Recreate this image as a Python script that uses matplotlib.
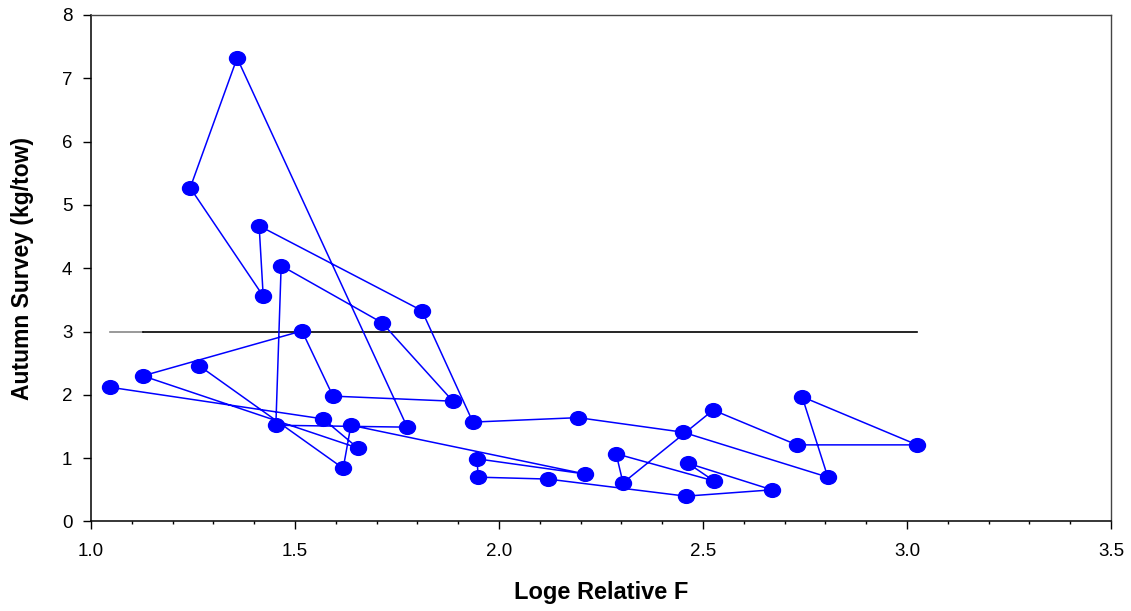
"""
Autumn survey index against loge relative F, points joined in series order.
"""

import matplotlib
matplotlib.use('Agg')
import matplotlib.pyplot as plt
from matplotlib.path import Path
from matplotlib.transforms import Affine2D
from matplotlib.ticker import MultipleLocator

plt.rcParams['font.family'] = ['Liberation Sans', 'DejaVu Sans']

# values in series order
loge_rel_f = [1.047, 1.569, 1.654, 1.127, 1.517, 1.593, 1.887, 1.713, 1.466,
              1.453, 1.775, 1.358, 1.243, 1.422, 1.412, 1.811, 1.936, 2.194,
              2.451, 2.806, 2.743, 3.025, 2.730, 2.525, 2.304, 2.287, 2.527,
              2.463, 2.669, 2.458, 2.120, 1.949, 1.946, 2.211, 1.637, 1.618,
              1.265]
autumn_kg_tow = [2.12, 1.62, 1.16, 2.30, 3.01, 1.98, 1.90, 3.14, 4.04,
                 1.52, 1.49, 7.32, 5.27, 3.56, 4.67, 3.33, 1.57, 1.64,
                 1.41, 0.70, 1.97, 1.21, 1.21, 1.76, 0.61, 1.07, 0.64,
                 0.92, 0.50, 0.40, 0.67, 0.70, 0.99, 0.75, 1.52, 0.84,
                 2.46]
ref_level = 3.0

# slightly flattened dot, like the original symbols
oval = Affine2D().scale(1.0, 0.86).transform_path(Path.unit_circle())

fig, ax = plt.subplots(figsize=(11.31, 6.11), dpi=100)
fig.subplots_adjust(left=0.0805, right=0.9823, bottom=0.1465, top=0.9755)

# reference level across the range of F
ax.plot([min(loge_rel_f), loge_rel_f[3]], [ref_level, ref_level], color='#888888', lw=1.2)
ax.plot([loge_rel_f[3], max(loge_rel_f)], [ref_level, ref_level], color='black', lw=1.2)

ax.plot(loge_rel_f, autumn_kg_tow, color='#0000ff', lw=1.1, marker=oval,
        markersize=11.5, markerfacecolor='#0000ff', markeredgecolor='#0000ff')

ax.set_xlim(1.0, 3.5)
ax.set_ylim(0, 8)
ax.xaxis.set_major_locator(MultipleLocator(0.5))
ax.xaxis.set_minor_locator(MultipleLocator(0.1))
ax.yaxis.set_major_locator(MultipleLocator(1))
ax.xaxis.set_major_formatter('{x:.1f}')

ax.tick_params(which='major', direction='out', length=5.5, width=1, labelsize=13.5)
ax.tick_params(axis='x', which='major', pad=10)
ax.tick_params(axis='y', which='major', pad=8)
ax.tick_params(which='minor', direction='out', length=2.5, width=1)
ax.tick_params(top=False, right=False)

for side in ['top', 'right']:
    ax.spines[side].set_color('#444444')
    ax.spines[side].set_linewidth(1.0)
for side in ['left', 'bottom']:
    ax.spines[side].set_linewidth(1.1)

ax.set_xlabel('Loge Relative F', fontsize=17, fontweight='bold')
ax.set_ylabel('Autumn Survey (kg/tow)', fontsize=16.5, fontweight='bold')
ax.xaxis.label.set_va('center')
ax.yaxis.label.set_va('center')
ax.xaxis.set_label_coords(0.5, -0.141)
ax.yaxis.set_label_coords(-0.0676, 0.5)

plt.savefig('out.png', dpi=100)
